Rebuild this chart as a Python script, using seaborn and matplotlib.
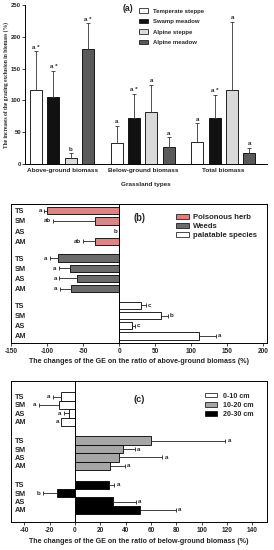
import numpy as np
import pandas as pd
import matplotlib
matplotlib.use("Agg")
import matplotlib.pyplot as plt
from matplotlib.patches import Patch
from matplotlib.container import BarContainer
import seaborn as sns

# ---------------- data ----------------
# Panel (a)
biomass_types = ["Above-ground biomass", "Below-ground biomass", "Total biomass"]
grasslands = ["Temperate steppe", "Swamp meadow", "Alpine steppe", "Alpine meadow"]
a_ts = [117, 33, 35]
a_sm = [106, 73, 73]
a_as = [10, 81, 117]
a_am = [181, 27, 17]
a_ts_err = [60, 27, 29]
a_sm_err = [41, 37, 36]
a_as_err = [7, 43, 107]
a_am_err = [40, 15, 8]
a_ts_lab = ["a *", "a", "a"]
a_sm_lab = ["a *", "a *", "a *"]
a_as_lab = ["b", "a", "a"]
a_am_lab = ["a *", "a", "a"]
a_yticks = [0, 50, 100, 150, 200, 250]

# Panel (b)
sites = ["TS", "SM", "AS", "AM"]
b_classes = ["Poisonous herb", "Weeds", "palatable species"]
b_poison = [-100, -33, 0, -33]
b_poison_err = [4, 59, 0, 17]
b_poison_lab = ["a", "ab", "b", "ab"]
b_weeds = [-85.5, -67.5, -58, -67]
b_weeds_err = [11, 16, 25, 15.5]
b_weeds_lab = ["a", "a", "a", "a"]
b_palat = [30, 57.5, 17.5, 111]
b_palat_err = [7, 10, 4, 23]
b_palat_lab = ["c", "b", "c", "a"]
b_xticks = [-150, -100, -50, 0, 50, 100, 150, 200]

# Panel (c)
c_layers = ["0-10 cm", "10-20 cm", "20-30 cm"]
c_l1 = [-11, -13, -5, -11]
c_l1_err = [6.5, 15.5, 4, 0]
c_l1_lab = ["a", "a", "a", "a"]
c_l2 = [60, 37.5, 34.5, 28]
c_l2_err = [58.5, 9.5, 34.5, 11.5]
c_l2_lab = ["a", "a", "a", "a"]
c_l3 = [26.5, -14, 30, 51]
c_l3_err = [4.5, 11.5, 18, 28.5]
c_l3_lab = ["a", "b", "a", "a"]
c_xticks = [-40, -20, 0, 20, 40, 60, 80, 100, 120, 140]

# ---------------- style ----------------
sns.set_style("white")
plt.rcParams["font.family"] = ["Liberation Sans", "DejaVu Sans"]
plt.rcParams["font.weight"] = "bold"
plt.rcParams["axes.labelweight"] = "bold"
plt.rcParams["axes.unicode_minus"] = False
FS_L = 4.5    # letters
FS_Y = 5.3    # site labels in (b) and (c)

fig = plt.figure(figsize=(2.74, 5.5), dpi=100)
W, H = 274.0, 550.0

def add_ax(l, r, t, b):
    return fig.add_axes([l / W, 1 - b / H, (r - l) / W, (b - t) / H])

ax_a = add_ax(25, 267, 5, 164)
ax_b = add_ax(11, 267, 204.3, 342.7)
ax_c = add_ax(11, 267, 381, 521.7)

# ---------------- panel (a) ----------------
a_vals = [a_ts, a_sm, a_as, a_am]
a_errs = [a_ts_err, a_sm_err, a_as_err, a_am_err]
a_labs = [a_ts_lab, a_sm_lab, a_as_lab, a_am_lab]
rows = []
for g, vals in zip(grasslands, a_vals):
    for bt, v in zip(biomass_types, vals):
        rows.append({"type": bt, "grassland": g, "value": v})
df_a = pd.DataFrame(rows)
pal_a = {"Temperate steppe": "#ffffff", "Swamp meadow": "#111111",
         "Alpine steppe": "#d9d9d9", "Alpine meadow": "#5a5a5a"}
sns.barplot(data=df_a, x="type", y="value", hue="grassland", order=biomass_types,
            hue_order=grasslands, palette=pal_a, width=0.86, gap=0.31,
            edgecolor="black", linewidth=0.6, errorbar=None, legend=False, ax=ax_a)
bar_conts = [c for c in ax_a.containers if isinstance(c, BarContainer)]
for i, cont in enumerate(bar_conts):
    for j, bar in enumerate(cont.patches):
        x = bar.get_x() + bar.get_width() / 2
        y = bar.get_height()
        e = a_errs[i][j]
        ax_a.errorbar([x], [y], yerr=[[0], [e]], fmt="none", ecolor="#333333",
                      elinewidth=0.6, capsize=1.3, capthick=0.6)
        ax_a.annotate(a_labs[i][j], (x, y + e), xytext=(0, 1.2),
                      textcoords="offset points", ha="center", va="bottom",
                      fontsize=FS_L, fontweight="bold")
ax_a.set_xlim(-0.46, 2.54)
ax_a.set_ylim(0, 250)
ax_a.set_yticks(a_yticks)
ax_a.tick_params(axis="y", length=2, width=0.6, pad=0.8, labelsize=4.3, left=True)
ax_a.tick_params(axis="x", length=0, pad=3, labelsize=4.6)
for lab in ax_a.get_xticklabels() + ax_a.get_yticklabels():
    lab.set_fontweight("bold")
sns.despine(ax=ax_a)
for s in ["left", "bottom"]:
    ax_a.spines[s].set_color("black")
    ax_a.spines[s].set_linewidth(0.7)
ax_a.set_xlabel("Grassland types", fontsize=4.6, fontweight="bold")
ax_a.xaxis.set_label_coords(0.5, -0.126)
ax_a.xaxis.label.set_verticalalignment("center")
ax_a.set_ylabel("The increases of the grazing exclusion in biomass (%)",
                fontsize=4.0, fontweight="bold", family=["Liberation Serif", "DejaVu Serif"])
ax_a.yaxis.set_label_coords(-0.0785, 0.5)
ax_a.yaxis.label.set_verticalalignment("center")
ax_a.text(0.426, 0.981, "(a)", transform=ax_a.transAxes, ha="center", va="center",
          fontsize=6.3, fontweight="bold")
h_a = [Patch(facecolor=pal_a[g], edgecolor="black", linewidth=0.5) for g in grasslands]
ax_a.legend(h_a, grasslands, loc="upper left", bbox_to_anchor=(0.471, 0.978),
            frameon=False, fontsize=4.3, borderpad=0, borderaxespad=0,
            handlelength=1.5, handleheight=0.7, handletextpad=0.8, labelspacing=0.88)

# ---------------- helper for horizontal panels ----------------
def hpanel(ax, classes, vals, errs, labs, stride, bar_w, pal, xlim, xticks, ylim):
    rows = []
    for g, (cls, vv) in enumerate(zip(classes, vals)):
        for i, (s, v) in enumerate(zip(sites, vv)):
            rows.append({"pos": g * stride + i, "value": v, "cls": cls, "site": s,
                         "err": errs[g][i], "lab": labs[g][i]})
    df = pd.DataFrame(rows)
    sns.barplot(data=df, x="value", y="pos", hue="cls", hue_order=classes,
                orient="h", native_scale=True, dodge=False, width=bar_w,
                palette=pal, edgecolor="black", linewidth=0.6, errorbar=None,
                legend=False, ax=ax)
    for _, r in df.iterrows():
        v, e, p = r["value"], r["err"], r["pos"]
        if e > 0:
            xe = [[e], [0]] if v < 0 else [[0], [e]]
            ax.errorbar([v], [p], xerr=xe, fmt="none", ecolor="#222222",
                        elinewidth=0.6, capsize=1.3, capthick=0.6)
        end = v - e if v <= 0 else v + e
        if v <= 0:
            ax.annotate(r["lab"], (end, p), xytext=(-1.6, 0), textcoords="offset points",
                        ha="right", va="center", fontsize=FS_L, fontweight="bold")
        else:
            ax.annotate(r["lab"], (end, p), xytext=(1.6, 0), textcoords="offset points",
                        ha="left", va="center", fontsize=FS_L, fontweight="bold")
    ax.axvline(0, color="black", linewidth=0.7, zorder=5)
    ax.set_xlim(*xlim)
    ax.set_ylim(*ylim)
    ax.set_xticks(xticks)
    ax.set_yticks(df["pos"].tolist())
    ax.set_yticklabels(df["site"].tolist())
    ax.tick_params(axis="y", length=0, pad=-2.9, labelsize=FS_Y)
    for lab in ax.get_yticklabels():
        lab.set_horizontalalignment("left")
        lab.set_fontweight("bold")
    ax.tick_params(axis="x", length=2, width=0.6, pad=1.5, labelsize=4.7, bottom=True)
    for lab in ax.get_xticklabels():
        lab.set_fontweight("bold")
    for s in ax.spines.values():
        s.set_color("black")
        s.set_linewidth(0.7)
    ax.set_ylabel("")
    return df

# ---------------- panel (b) ----------------
pal_b = {"Poisonous herb": "#e8787a", "Weeds": "#6b6b6b", "palatable species": "#ffffff"}
hpanel(ax_b, b_classes, [b_poison, b_weeds, b_palat],
       [b_poison_err, b_weeds_err, b_palat_err],
       [b_poison_lab, b_weeds_lab, b_palat_lab],
       4.65, 0.72, pal_b, (-150, 205), b_xticks, (12.96, -0.63))
ax_b.set_xlabel("The changes of the GE on the ratio of above-ground biomass (%)",
                fontsize=5.15, fontweight="bold")
ax_b.xaxis.set_label_coords(0.5, -0.137)
ax_b.xaxis.label.set_verticalalignment("center")
ax_b.text(0.502, 0.901, "(b)", transform=ax_b.transAxes, ha="center", va="center",
          fontsize=6.9, fontweight="bold")
h_b = [Patch(facecolor=pal_b[c], edgecolor="black", linewidth=0.5) for c in b_classes]
ax_b.legend(h_b, b_classes, loc="upper left", bbox_to_anchor=(0.643, 0.93),
            frameon=False, fontsize=5.6, borderpad=0, borderaxespad=0,
            handlelength=1.75, handleheight=0.64, handletextpad=0.47, labelspacing=0.2)

# ---------------- panel (c) ----------------
pal_c = {"0-10 cm": "#ffffff", "10-20 cm": "#a6a6a6", "20-30 cm": "#000000"}
hpanel(ax_c, c_layers, [c_l1, c_l2, c_l3],
       [c_l1_err, c_l2_err, c_l3_err],
       [c_l1_lab, c_l2_lab, c_l3_lab],
       5.25, 1.0, pal_c, (-50.5, 151.5), c_xticks, (14.9, -1.85))
ax_c.set_xlabel("The changes of the GE on the ratio of below-ground biomass (%)",
                fontsize=5.15, fontweight="bold")
ax_c.xaxis.set_label_coords(0.5, -0.142)
ax_c.xaxis.label.set_verticalalignment("center")
ax_c.text(0.5, 0.87, "(c)", transform=ax_c.transAxes, ha="center", va="center",
          fontsize=6.6, fontweight="bold")
h_c = [Patch(facecolor=pal_c[c], edgecolor="black", linewidth=0.5) for c in c_layers]
ax_c.legend(h_c, c_layers, loc="upper left", bbox_to_anchor=(0.758, 0.918),
            frameon=False, fontsize=5.1, borderpad=0, borderaxespad=0,
            handlelength=1.73, handleheight=0.64, handletextpad=0.76, labelspacing=0.3)

fig.savefig("out.png", dpi=100)
